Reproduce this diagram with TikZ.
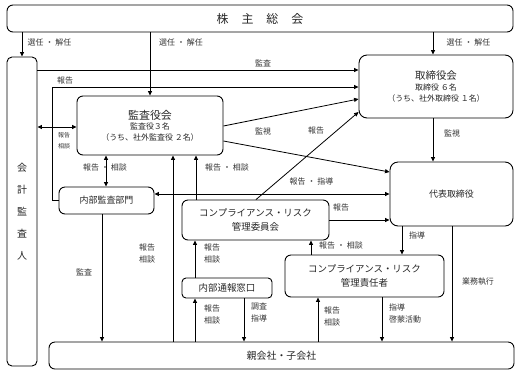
\documentclass[tikz,border=0pt]{standalone}
\usepackage{fontspec}
\setmainfont{Noto Sans CJK JP}
\usetikzlibrary{arrows.meta}

\begin{document}
\begin{tikzpicture}[
    x=1bp, y=-1bp,
    box/.style   = {rectangle, rounded corners=6bp, draw, line width=0.9bp,
                    inner sep=0pt, align=center, text=black!85},
    arr/.style   = {-{Triangle[length=4.5bp,width=4bp]}, line width=0.8bp},
    darr/.style  = {{Triangle[length=4.5bp,width=4bp]}-{Triangle[length=4.5bp,width=4bp]},
                    line width=0.8bp},
    lbl/.style   = {font=\fontsize{8}{11.5}\selectfont, inner sep=0pt,
                    align=center, text=black!80},
    sublbl/.style = {lbl, font=\fontsize{6}{11}\selectfont}
]
\useasboundingbox (0,0) rectangle (524,373);

%% ---- BOXES ----
\node[box, minimum width=506bp, minimum height=27bp,
      font=\fontsize{12}{14}\selectfont] (meeting) at (260,18.5)
      {株\hspace{13bp}主\hspace{13bp}総\hspace{13bp}会};
\node[box, rounded corners=5bp, minimum width=30bp, minimum height=309bp,
      font=\fontsize{10}{22.2}\selectfont] (auditor) at (22,211.5)
      {会\\計\\監\\査\\人};
\node[box, minimum width=146bp, minimum height=59bp,
      font=\fontsize{8}{10.5}\selectfont] (kansa) at (150,125.5)
      {{\fontsize{11}{11}\selectfont 監査役会}\\監査役３名\\（うち、社外監査役 ２名）};
\node[box, rounded corners=8bp, minimum width=154bp, minimum height=63bp,
      font=\fontsize{8}{11}\selectfont] (board) at (436,86.5)
      {{\fontsize{10.5}{11}\selectfont 取締役会}\\取締役 ６名\\（うち、社外取締役 １名）};
\node[box, rounded corners=8bp, minimum width=123bp, minimum height=64bp,
      font=\fontsize{9}{11}\selectfont] (rep) at (451.5,194) {代表取締役};
\node[box, minimum width=95bp, minimum height=27bp,
      font=\fontsize{9}{11}\selectfont] (dept) at (106.5,200.5) {内部監査部門};
\node[box, minimum width=147bp, minimum height=40bp,
      font=\fontsize{9.5}{14}\selectfont] (committee) at (255.5,220)
      {コンプライアンス・リスク\\管理委員会};
\node[box, rounded corners=4bp, minimum width=90bp, minimum height=20bp,
      font=\fontsize{9.5}{11}\selectfont] (hotline) at (227,288) {内部通報窓口};
\node[box, minimum width=159bp, minimum height=42bp,
      font=\fontsize{9.5}{14}\selectfont] (officer) at (364.5,276)
      {コンプライアンス・リスク\\管理責任者};
\node[box, minimum width=465bp, minimum height=27bp,
      font=\fontsize{10}{12}\selectfont] (group) at (281.5,355.5) {親会社・子会社};

%% ---- ARROWS from the shareholders' meeting ----
\draw[arr] (meeting.south -| auditor) -- (auditor.north);
\node[lbl] (l1) at (49.5,42) {選任\hspace{2bp}・\hspace{2bp}解任};
\draw[arr] (meeting.south -| kansa) -- (kansa.north);
\node[lbl] (l2) at (181,42) {選任\hspace{2bp}・\hspace{2bp}解任};
\draw[arr] (meeting.south -| 433,0) -- (board.north -| 433,0);
\node[lbl] (l3) at (468.5,42) {選任\hspace{2bp}・\hspace{2bp}解任};

%% ---- ARROWS around the auditor ----
\draw[arr] (auditor.east |- 0,70) -- (board.west |- 0,70);
\node[lbl] (l4) at (263,63) {監査};
\draw[arr] (dept.west) -- ++(-6,0) |- (board.west |- 0,87);
\node[lbl] (l5) at (65,81) {報告};
\draw[darr] (auditor.east |- 0,127) -- (kansa.west |- 0,127);
\node[sublbl] (l6) at (64,141) {報告\\相談};
\draw[darr] (kansa.south -| 106,0) -- (dept.north -| 106,0);
\node[lbl] (l7) at (105,167) {報告\hspace{2bp}・\hspace{2bp}相談};
\draw[arr] (dept.south -| 102,0) -- (group.north -| 102,0);
\node[lbl] (l8) at (84,272) {監査};

%% ---- ARROWS to the board ----
\draw[arr] (kansa.east |- 0,126) -- (board.west |- 0,99);
\node[lbl] (l9) at (263,131) {監視};
\draw[arr] (kansa.east |- 0,141) -- (rep.west |- 0,172);
\draw[arr] (committee.north -| 256,0) -- (board.west |- 0,112);
\node[lbl] (l10) at (316,131) {報告};
\draw[arr] (board.south -| 433,0) -- (rep.north -| 433,0);
\node[lbl] (l11) at (452,133) {監視};

%% ---- ARROWS to the representative director ----
\draw[darr] (dept.east |- 0,194) -- (rep.west |- 0,194);
\node[lbl] (l12) at (311.5,181) {報告\hspace{2bp}・\hspace{2bp}指導};
\draw[arr] (committee.east |- 0,220) -- (rep.west |- 0,220);
\node[lbl] (l13) at (341,207) {報告};

%% ---- ARROWS of the compliance committee ----
\draw[arr] (committee.north -| 196,0) -- (kansa.south -| 196,0);
\node[lbl] (l14) at (227,167) {報告\hspace{2bp}・\hspace{2bp}相談};
\draw[arr] (group.north -| 173,0) -- (kansa.south -| 173,0);
\node[lbl] (l15) at (147,253.5) {報告\\相談};
\draw[arr] (hotline.north -| 195,0) -- (committee.south -| 195,0);
\node[lbl] (l16) at (212,253.5) {報告\\相談};
\draw[arr] (group.north -| 195,0) -- (hotline.south -| 195,0);
\node[lbl] (l17) at (212,314.5) {報告\\相談};
\draw[arr] (hotline.south -| 244,0) -- (group.north -| 244,0);
\node[lbl, anchor=west, align=left] (l18) at (251,312.5) {調査\\指導};
\draw[arr] (officer.north -| 311,0) -- (committee.south -| 311,0);
\node[lbl] (l19) at (341,245.5) {報告\hspace{2bp}・\hspace{2bp}相談};

%% ---- ARROWS of the officer ----
\draw[arr] (rep.south -| 402,0) -- (officer.north -| 402,0);
\node[lbl] (l20) at (417,235) {指導};
\draw[arr] (rep.south -| 452,0) -- (group.north -| 452,0);
\node[lbl] (l21) at (478,282) {業務執行};
\draw[arr] (officer.south -| 382,0) -- (group.north -| 382,0);
\node[lbl, anchor=west, align=left] (l22) at (389,313.5) {指導\\啓蒙活動};
\draw[arr] (group.north -| 318,0) -- (officer.south -| 318,0);
\node[lbl] (l23) at (332,316.5) {報告\\相談};

\end{tikzpicture}
\end{document}
